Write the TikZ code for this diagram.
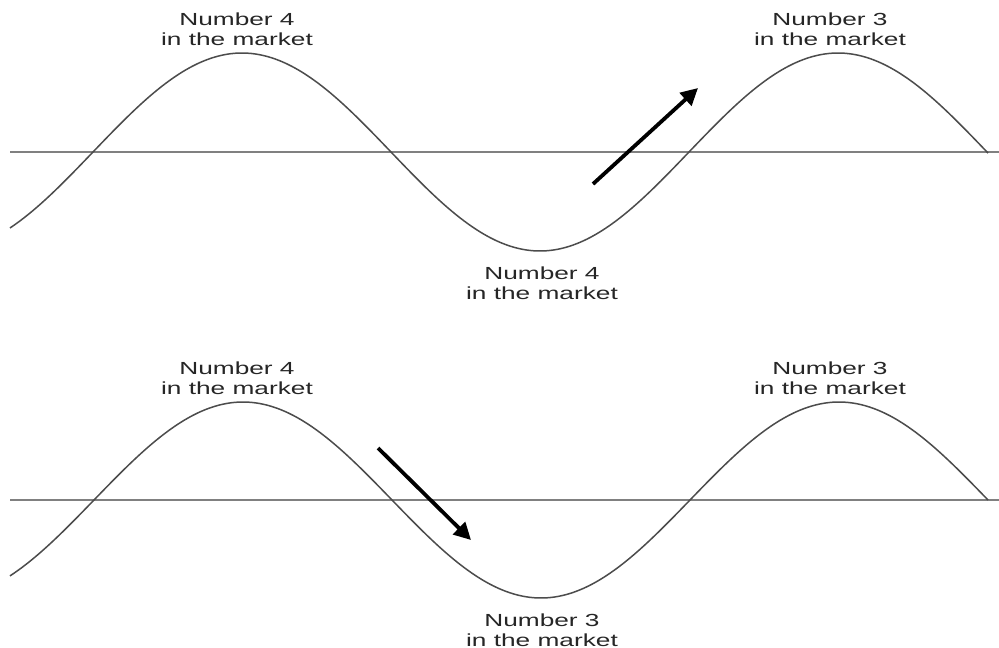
\documentclass[tikz,border=0pt]{standalone}
\usepackage{fontspec}
\setmainfont{Liberation Sans}
\usetikzlibrary{arrows.meta}
\begin{document}
\begin{tikzpicture}[x=1pt,y=-1pt,
  axisline/.style={draw=black!50, line width=1.8pt},
  wave/.style={draw=black!70, line width=1.5pt},
  bigarrow/.style={draw=black, line width=3.8pt, -{Triangle[length=17pt,width=17pt]}},
  lbl/.style={align=center, inner sep=0pt, text=black!85, font=\fontsize{17.5}{20}\selectfont}
]
\useasboundingbox[fill=white] (0,0) rectangle (999,648);
% top panel
\draw[axisline] (10,152) -- (999,152);
\draw[wave] plot[domain=10:988, samples=240, smooth] (\x, {152 - 99*sin((\x-93)/298*180)});
\node[lbl] (t1) at (237,29) {\scalebox{1.5}[1]{Number 4}\\\scalebox{1.5}[1]{in the market}};
\node[lbl] (t2) at (830,29) {\scalebox{1.5}[1]{Number 3}\\\scalebox{1.5}[1]{in the market}};
\node[lbl] (t3) at (542,283) {\scalebox{1.5}[1]{Number 4}\\\scalebox{1.5}[1]{in the market}};
\coordinate (a1s) at (593,184);
\coordinate (a1e) at (698,88);
\draw[bigarrow] (a1s) -- (a1e);
% bottom panel
\draw[axisline] (10,500) -- (999,500);
\draw[wave] plot[domain=10:988, samples=240, smooth] (\x, {500 - 98*sin((\x-94)/298*180)});
\node[lbl] (b1) at (237,378) {\scalebox{1.5}[1]{Number 4}\\\scalebox{1.5}[1]{in the market}};
\node[lbl] (b2) at (830,378) {\scalebox{1.5}[1]{Number 3}\\\scalebox{1.5}[1]{in the market}};
\node[lbl] (b3) at (542,630) {\scalebox{1.5}[1]{Number 3}\\\scalebox{1.5}[1]{in the market}};
\coordinate (a2s) at (378,448);
\coordinate (a2e) at (471,540);
\draw[bigarrow] (a2s) -- (a2e);
\end{tikzpicture}
\end{document}
